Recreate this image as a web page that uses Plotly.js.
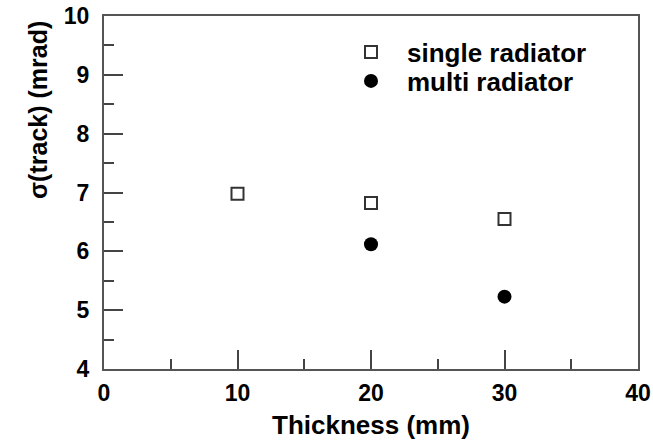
<!DOCTYPE html>
<html>
<head>
<meta charset="utf-8">
<script src="https://cdn.plot.ly/plotly-3.0.1.min.js"></script>
<style>html,body{margin:0;padding:0;background:#fff;}#chart{width:653px;height:441px;}</style>
</head>
<body>
<div id="chart"></div>
<script>
var singleThickness = [10, 20, 30];
var singleSigma = [6.98, 6.82, 6.55];
var multiThickness = [20, 30];
var multiSigma = [6.12, 5.23];
var seriesNames = ['single radiator', 'multi radiator'];
var xTitle = 'Thickness (mm)';
var yTitle = '\u03c3(track) (mrad)';

var FONT = 'Liberation Sans, Arial, Helvetica, sans-serif';

var traces = [
  {
    x: singleThickness, y: singleSigma, name: seriesNames[0],
    type: 'scatter', mode: 'markers', legend: 'legend',
    marker: {symbol: 'square-open', size: 12, color: '#333', line: {width: 2, color: '#333'}}
  },
  {
    x: multiThickness, y: multiSigma, name: seriesNames[1],
    type: 'scatter', mode: 'markers', legend: 'legend2',
    marker: {symbol: 'circle', size: 14, color: '#000', line: {width: 0}}
  }
];

var axisCommon = {
  showgrid: false, zeroline: false,
  showline: true, linecolor: '#555', linewidth: 2, mirror: true,
  ticks: 'inside', ticklen: 19, tickwidth: 2, tickcolor: '#444',
  tickfont: {family: FONT, size: 23, color: '#000', weight: 'bold'}
};

function legendAt(yPix) {
  return {
    x: (335 - 104) / 534, y: 1 - (yPix - 16) / 353, xanchor: 'left', yanchor: 'middle',
    bgcolor: 'rgba(0,0,0,0)', borderwidth: 0,
    font: {family: FONT, size: 26, color: '#000', weight: 'bold'},
    itemwidth: 62
  };
}

var layout = {
  width: 653, height: 441,
  margin: {l: 104, r: 15, t: 16, b: 72},
  paper_bgcolor: '#fff', plot_bgcolor: '#fff',
  showlegend: true,
  legend: legendAt(52),
  legend2: legendAt(81),
  xaxis: Object.assign({}, axisCommon, {
    range: [0, 40], dtick: 10, tick0: 0,
    minor: {dtick: 5, ticks: 'inside', ticklen: 10, tickwidth: 2, tickcolor: '#444', showgrid: false},
    ticklabelstandoff: 2,
    title: {text: xTitle, font: {family: FONT, size: 26, color: '#000', weight: 'bold'}, standoff: 11}
  }),
  yaxis: Object.assign({}, axisCommon, {
    range: [4, 10], dtick: 1, tick0: 4,
    minor: {dtick: 0.5, ticks: 'inside', ticklen: 10, tickwidth: 2, tickcolor: '#444', showgrid: false},
    ticklabelstandoff: 8
  }),
  annotations: [{
    text: yTitle, xref: 'paper', yref: 'paper',
    x: (38 - 104) / 534, y: 1 - (110 - 16) / 353,
    xanchor: 'center', yanchor: 'middle', textangle: -90, showarrow: false,
    font: {family: FONT, size: 25, color: '#000', weight: 'bold'}
  }]
};

Plotly.newPlot('chart', traces, layout, {displayModeBar: false, staticPlot: true});
</script>
</body>
</html>
